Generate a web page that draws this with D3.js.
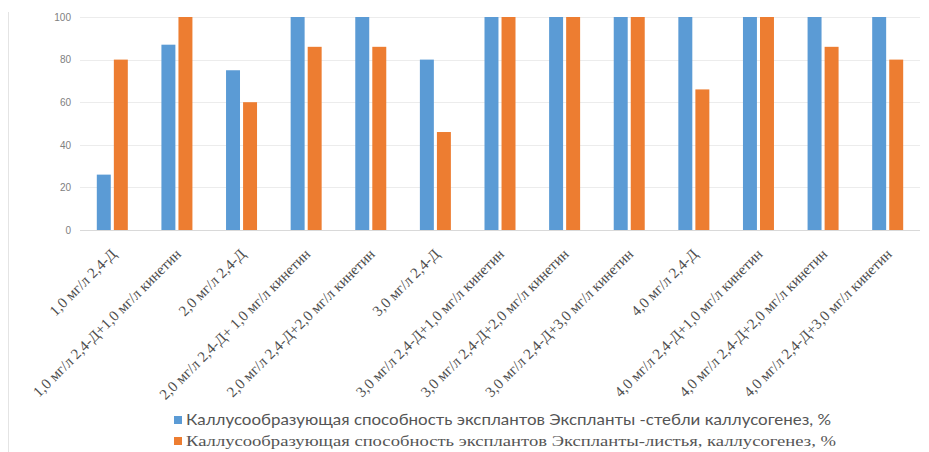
<!DOCTYPE html>
<html>
<head>
<meta charset="utf-8">
<script src="https://cdn.jsdelivr.net/npm/d3@7"></script>
<style>
  body { margin: 0; background: #fff; }
  svg { display: block; }
  .serif { font-family: "Liberation Serif", "DejaVu Serif", "Times New Roman", serif; }
  .sans { font-family: Lato, "Liberation Sans", sans-serif; }
</style>
</head>
<body>
<svg id="chart"></svg>
<script>
// Categories (hormone combinations) and the two series
const categories = [
  "1,0 мг/л 2,4-Д",
  "1,0 мг/л 2,4-Д+1,0 мг/л кинетин",
  "2,0 мг/л 2,4-Д",
  "2,0 мг/л 2,4-Д+ 1,0 мг/л кинетин",
  "2,0 мг/л 2,4-Д+2,0 мг/л кинетин",
  "3,0 мг/л 2,4-Д",
  "3,0 мг/л 2,4-Д+1,0 мг/л кинетин",
  "3,0 мг/л 2,4-Д+2,0 мг/л кинетин",
  "3,0 мг/л 2,4-Д+3,0 мг/л кинетин",
  "4,0 мг/л 2,4-Д",
  "4,0 мг/л 2,4-Д+1,0 мг/л кинетин",
  "4,0 мг/л 2,4-Д+2,0 мг/л кинетин",
  "4,0 мг/л 2,4-Д+3,0 мг/л кинетин"
];
const stemValues = [26, 87, 75, 100, 100, 80, 100, 100, 100, 100, 100, 100, 100];
const leafValues = [80, 100, 60, 86, 86, 46, 100, 100, 100, 66, 100, 86, 80];
const seriesNames = [
  "Каллусообразующая способность эксплантов  Экспланты -стебли каллусогенез, %",
  "Каллусообразующая способность эксплантов  Экспланты-листья, каллусогенез, %"
];
const yTicks = [0, 20, 40, 60, 80, 100];
const colors = ["#5b9bd5", "#ed7d31"];

const W = 929, H = 452;
const plot = { left: 80, right: 920, top: 17, bottom: 230 };

const svg = d3.select("#chart").attr("width", W).attr("height", H);

// faint frame line on the left
svg.append("line")
  .attr("x1", 8.5).attr("x2", 8.5).attr("y1", 12).attr("y2", H)
  .attr("stroke", "#e4e4e4");

const x0 = d3.scaleBand().domain(categories).range([plot.left, plot.right]).padding(0);
const groupW = 31;
const x1 = d3.scaleBand().domain([0, 1]).range([0, groupW]).paddingInner(0.18);
const y = d3.scaleLinear().domain([0, 100]).range([plot.bottom, plot.top]);

// gridlines
svg.append("g")
  .selectAll("line")
  .data(yTicks)
  .join("line")
  .attr("x1", plot.left).attr("x2", plot.right)
  .attr("y1", d => Math.round(y(d)) + 0.5).attr("y2", d => Math.round(y(d)) + 0.5)
  .attr("stroke", d => d === 0 ? "#d9d9d9" : "#ececec");

// y axis labels
const yAxis = svg.append("g")
  .attr("transform", `translate(${plot.left},0)`)
  .call(d3.axisLeft(y).tickValues(yTicks).tickSize(0).tickPadding(9));
yAxis.select(".domain").remove();
yAxis.selectAll("text")
  .attr("fill", "#808080")
  .style("font-family", "'Liberation Sans', Arial, sans-serif")
  .style("font-size", "10px");

// bars
const rows = categories.map((c, i) => ({ cat: c, vals: [stemValues[i], leafValues[i]] }));
const groups = svg.append("g")
  .selectAll("g")
  .data(rows)
  .join("g")
  .attr("transform", d => `translate(${x0(d.cat) + (x0.bandwidth() - groupW) / 2},0)`);

groups.selectAll("rect")
  .data(d => d.vals.map((v, k) => ({ k, v })))
  .join("rect")
  .attr("x", d => x1(d.k))
  .attr("y", d => y(d.v))
  .attr("width", x1.bandwidth())
  .attr("height", d => y(0) - y(d.v))
  .attr("fill", d => colors[d.k]);

// rotated category labels
svg.append("g")
  .selectAll("text")
  .data(categories)
  .join("text")
  .attr("class", "serif")
  .attr("transform", d => `translate(${x0(d) + x0.bandwidth() / 2 + 5},${plot.bottom + 25}) rotate(-45)`)
  .attr("text-anchor", "end")
  .attr("fill", "#4d4d4d")
  .style("font-size", "15px")
  .text(d => d);

// legend
const legend = svg.append("g");
const legendClass = ["sans", "serif"];
const legendLen = [645, 650];
seriesNames.forEach((name, i) => {
  const ly = 425 + i * 21;
  legend.append("rect")
    .attr("x", 174).attr("y", ly - 9)
    .attr("width", 8).attr("height", 8)
    .attr("fill", colors[i]);
  legend.append("text")
    .attr("class", legendClass[i])
    .attr("x", 186).attr("y", ly)
    .attr("fill", "#555")
    .attr("textLength", legendLen[i])
    .attr("lengthAdjust", "spacingAndGlyphs")
    .style("font-size", "15px")
    .text(name);
});
</script>
</body>
</html>
